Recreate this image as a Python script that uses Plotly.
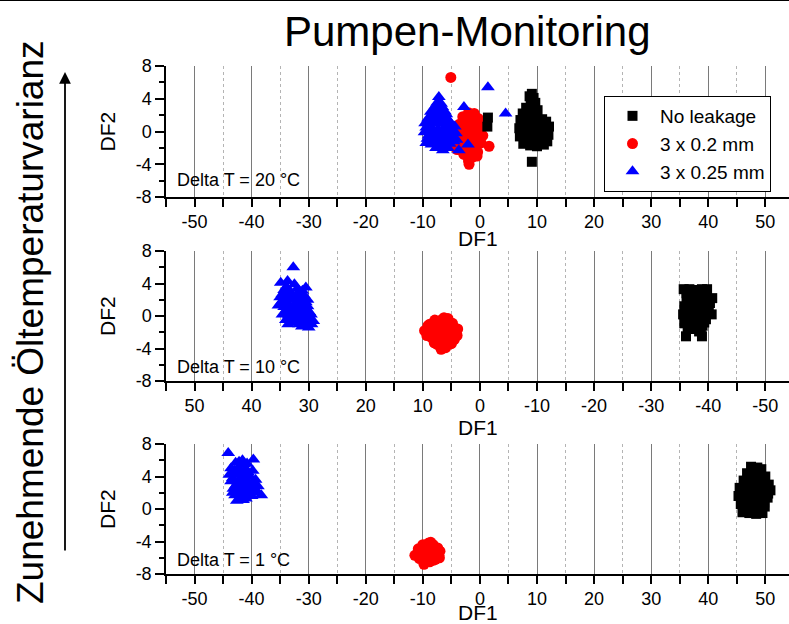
import plotly.graph_objects as go

# ---------------------------------------------------------------
# Discriminant scores (DF1, DF2) of the pump test runs
# ---------------------------------------------------------------

# Delta T = 20 °C
dt20_none_df1 = [9.1, 9.4, 8.9, 9.6, 8.1, 9.2, 10.1, 7.5, 8.6, 9.8, 10.9, 7.1, 8.2, 9.3,
                 10.5, 11.6, 12.1, 6.9, 7.9, 9.0, 10.2, 11.3, 12.0, 7.0, 8.3, 9.5, 10.8,
                 11.8, 7.6, 8.8, 10.0, 11.2, 9.1, 1.4, 1.3,
                 8.5, 9.5, 7.8, 9.0, 10.2, 11.2, 8.5, 9.8, 7.4, 8.7, 10.6, 11.5, 7.9,
                 9.2, 10.5, 11.4, 9.7, 8.7]
dt20_none_df2 = [4.6, 4.1, 3.6, 3.4, 2.9, 2.8, 2.6, 2.2, 2.0, 1.9, 1.5, 1.4, 1.2, 1.0,
                 0.9, 1.2, 0.6, 0.4, 0.3, 0.1, -0.1, -0.2, -0.4, -0.6, -0.7, -0.9, -1.0,
                 -1.2, -1.5, -1.7, -1.8, -1.6, -3.7, 1.7, 0.6,
                 2.5, 2.3, 1.7, 1.6, 1.3, 0.8, 0.7, 0.5, -0.1, -0.3, 0.3, 0.2, -1.1,
                 -1.3, -1.4, -0.8, 3.5, 4.3]

dt20_02_df1 = [-5.1, -2.0, -1.0, -3.0, -0.3, -2.2, -3.6, -1.2, 0.2, -2.8, -0.6, -3.9, -1.8,
               0.5, -3.2, -1.0, -4.8, -2.4, 0.2, 1.6, -4.0, -1.6, -0.4, -2.8, -1.2, -2.0,
               -1.9, -1.6, -2.6, -0.4, -1.5, -2.3, -0.2, -1.4, -3.5, -2.2, -0.8, -3.3,
               -1.6, -0.5]
dt20_02_df2 = [6.6, 2.3, 2.2, 1.8, 1.6, 1.2, 0.9, 0.8, 0.6, 0.2, 0.1, -0.3, -0.4,
               -0.5, -1.0, -1.1, -1.6, -1.6, -1.4, -1.8, -2.2, -2.3, -2.5, -2.8, -3.1, -3.6,
               -4.0, 1.7, 0.8, 0.9, 0.3, -0.8, -0.3, -1.6, -1.7, -2.5, -1.9, -2.3,
               -2.9, -3.0]

dt20_025_df1 = [-7.2, -7.5, -6.8, -8.0, -7.0, -6.2, -8.4, -7.4, -6.4, -5.6, -8.9, -7.9, -6.9,
                -5.9, -9.4, -8.3, -7.3, -6.3, -5.2, -4.4, -9.7, -8.7, -7.6, -6.5, -5.4, -4.2,
                -9.2, -8.0, -6.9, -5.8, -4.6, -8.5, -7.3, -6.1, -6.5, -3.7, -2.1, -2.8, 1.4,
                4.5, -7.8, -6.6, -8.6, -5.9, -7.1, -9.1, -8.1, -7.1, -6.1, -5.2, -9.6, -4.8,
                -4.9, -9.0, -8.0, -7.0, -6.0, -8.6, -7.5, -6.4, -5.3, -7.7, -5.6, -9.4, -4.1]
dt20_025_df2 = [4.2, 3.5, 3.4, 2.8, 2.7, 2.5, 2.0, 1.9, 1.8, 1.5, 1.2, 1.1, 1.0,
                0.8, 0.5, 0.4, 0.3, 0.2, 0.3, 0.6, -0.1, -0.3, -0.4, -0.5, -0.4, -0.2,
                -0.9, -1.0, -1.1, -1.0, -1.2, -1.6, -1.7, -1.6, -2.3, -2.3, -1.6, 3.0, 5.4,
                2.2, 3.1, 3.0, 2.4, 2.1, 2.3, 1.6, 1.6, 1.5, 1.3, 1.1, 1.0, 0.1,
                -0.6, -0.5, -0.1, -0.1, -0.1, -1.2, -1.3, -1.2, -1.5, -2.0, -2.0, -1.4, -1.0]

# Delta T = 10 °C
dt10_none_df1 = [-35.7, -36.7, -37.8, -38.9, -39.8, -40.7, -36.2, -37.3, -38.4, -39.5, -35.8,
                 -36.9, -38.0, -39.1, -40.1, -40.6, -35.6, -36.6, -37.7, -38.8, -39.6, -35.8,
                 -36.8, -38.0, -39.0, -36.1, -38.9, -37.2, -38.4,
                 -36.2, -37.3, -38.4, -39.5, -40.3, -36.3, -37.4, -38.5, -39.6, -36.1,
                 -37.2, -38.3, -39.4, -36.2, -37.3, -38.5, -39.3, -37.5, -38.7, -36.4]
dt10_none_df2 = [3.3, 3.3, 3.2, 3.3, 3.3, 2.2, 2.3, 2.2, 2.3, 2.1, 1.2,
                 1.3, 1.1, 1.2, 1.0, 0.2, 0.2, 0.0, 0.1, 0.0, -0.4, -0.9,
                 -1.1, -1.0, -1.2, -2.5, -2.5, -1.3, -1.9,
                 2.8, 2.7, 2.8, 2.7, 1.6, 1.7, 1.6, 1.7, 1.6, 0.6,
                 0.6, 0.5, 0.5, -0.5, -0.5, -0.4, -0.8, -1.6, -1.6, -1.6]

dt10_02_df1 = [9.7, 8.8, 8.6, 7.9, 7.6, 7.8, 7.5, 6.3, 6.8, 6.5, 6.9, 6.8, 5.6, 5.8,
               5.5, 5.8, 4.8, 4.6, 4.5, 3.9, 4.0, 8.2, 7.2, 7.1, 6.0, 6.1, 5.1, 5.2,
               7.2, 6.0, 8.0, 4.3, 5.0, 9.3, 9.1, 6.8]
dt10_02_df2 = [-1.8, -1.0, -2.6, -0.5, -1.6, -2.8, -3.5, -0.2, -1.0, -2.0, -3.0, -4.1, -0.3,
               -1.4, -2.4, -3.4, -0.9, -1.9, -2.9, -1.6, -2.4, -1.8, -1.1, -2.3, -0.9, -2.9,
               -1.5, -2.6, -3.2, -3.9, -3.3, -2.5, -3.4, -2.4, -1.2, -0.5]

dt10_025_df1 = [32.7, 34.9, 33.7, 32.5, 30.5, 34.3, 33.2, 31.8, 30.9, 35.0, 34.0, 32.8, 31.6,
                30.5, 35.3, 34.3, 33.1, 32.0, 30.9, 29.9, 34.6, 33.5, 32.4, 31.3, 30.2, 29.2,
                34.0, 32.8, 31.7, 30.5, 29.5, 33.9, 32.0, 31.1, 34.6, 33.4, 32.2, 31.2,
                30.2, 34.8, 33.7, 32.5, 31.3, 30.2, 29.6, 34.0, 32.9, 31.8, 30.7, 33.3,
                32.1, 31.0, 29.9, 33.6, 31.2, 30.0]
dt10_025_df2 = [6.0, 4.1, 4.3, 3.9, 3.5, 3.2, 3.0, 2.9, 2.6, 2.3, 2.1, 2.0, 1.8,
                1.7, 1.3, 1.1, 1.0, 0.9, 0.7, 0.5, 0.2, 0.1, 0.0, -0.1, -0.3, -0.6,
                -0.5, -0.8, -1.0, -1.1, -1.0, 3.6, 3.4, 3.1, 2.7, 2.5, 2.4, 2.2,
                2.0, 1.7, 1.6, 1.4, 1.3, 1.2, 0.2, 0.6, 0.5, 0.4, 0.2, -0.3,
                -0.4, -0.6, -0.5, -1.0, -1.3, -1.4]

# Delta T = 1 °C
dt1_none_df1 = [47.5, 48.6, 49.3, 46.8, 47.9, 49.0, 50.0, 46.2, 47.3, 48.4, 49.5, 50.6, 50.9,
                45.5, 46.5, 47.7, 48.8, 49.9, 45.3, 46.3, 47.4, 48.5, 49.7, 50.4, 45.7, 46.8,
                48.0, 49.2, 49.9, 46.0, 47.2, 48.4, 49.5,
                48.0, 47.3, 48.5, 49.6, 46.7, 47.9, 49.1, 50.2, 46.0, 47.1, 48.2, 49.4,
                50.5, 46.2, 47.4, 48.6, 49.8, 46.6, 47.8, 49.0]
dt1_none_df2 = [5.2, 5.1, 4.9, 4.4, 4.3, 4.2, 4.0, 3.5, 3.4, 3.3, 3.3, 3.0, 2.3,
                2.6, 2.5, 2.4, 2.3, 2.2, 1.6, 1.5, 1.4, 1.4, 1.2, 1.4, 0.6, 0.5,
                0.5, 0.4, 0.3, -0.4, -0.5, -0.6, -0.5,
                4.8, 4.0, 3.9, 3.7, 3.0, 2.9, 2.8, 2.6, 2.0, 1.9, 1.9, 1.8,
                1.9, 1.0, 0.9, 0.9, 0.8, 0.0, 0.0, -0.1]

dt1_02_df1 = [-11.4, -10.8, -10.6, -10.0, -9.9, -9.8, -9.0, -9.2, -9.0, -9.4, -8.2, -8.3,
              -8.1, -7.4, -7.2, -7.1, -7.0, -8.6, -10.4, -9.5, -8.7, -8.6, -9.6, -7.7,
              -10.2, -10.9, -9.4, -7.8, -8.8]
dt1_02_df2 = [-5.7, -4.9, -6.1, -4.4, -5.5, -6.8, -4.2, -5.0, -5.9, -6.5, -4.4, -5.4,
              -6.3, -4.8, -5.7, -6.0, -5.2, -4.1, -5.3, -4.6, -4.8, -5.8, -6.1, -5.5,
              -5.9, -5.6, -5.4, -6.2, -6.5]

dt1_025_df1 = [-44.1, -39.7, -41.6, -42.8, -40.8, -43.6, -42.3, -41.0, -39.8, -43.9, -42.7,
               -41.5, -40.3, -39.3, -43.6, -42.4, -41.2, -40.0, -38.9, -43.2, -42.0, -40.8,
               -39.6, -38.3, -42.9, -41.7, -40.5, -42.6, -41.5, -43.3,
               -42.2, -41.3, -43.0, -41.8, -40.6, -43.3, -42.1, -40.9, -39.8, -42.8,
               -41.6, -40.4, -39.2, -42.3, -41.1, -40.0, -42.1, -41.0]
dt1_025_df2 = [6.9, 6.1, 6.0, 5.7, 5.6, 5.0, 5.1, 4.9, 4.7, 4.2, 4.3,
               4.1, 4.0, 3.6, 3.4, 3.3, 3.2, 3.0, 2.8, 2.5, 2.4, 2.2,
               2.0, 1.7, 1.7, 1.5, 1.6, 1.0, 1.1, 2.0,
               5.8, 5.5, 4.7, 4.6, 4.5, 3.8, 3.7, 3.6, 3.3, 2.9,
               2.8, 2.6, 2.3, 2.0, 1.9, 1.6, 1.3, 1.3]

# Class names, colours and symbols
class_names = ["No leakage", "3 x 0.2 mm", "3 x 0.25 mm"]
class_colors = ["#000000", "#ff0000", "#0000ff"]
class_symbols = ["square", "circle", "triangle-up"]
class_sizes = [10, 11, 12]

panel_labels = ["Delta T = 20 °C", "Delta T = 10 °C", "Delta T = 1 °C"]
panel_data = [
    [(dt20_none_df1, dt20_none_df2), (dt20_02_df1, dt20_02_df2), (dt20_025_df1, dt20_025_df2)],
    [(dt10_none_df1, dt10_none_df2), (dt10_02_df1, dt10_02_df2), (dt10_025_df1, dt10_025_df2)],
    [(dt1_none_df1, dt1_none_df2), (dt1_02_df1, dt1_02_df2), (dt1_025_df1, dt1_025_df2)],
]
# DF1 axis direction per panel (middle panel is mirrored)
panel_reversed = [False, True, False]

# Tick values and labels
x_major = [-50, -40, -30, -20, -10, 0, 10, 20, 30, 40, 50]
x_major_text = ["-50", "-40", "-30", "-20", "-10", "0", "10", "20", "30", "40", "50"]
x_minor = [-55, -45, -35, -25, -15, -5, 5, 15, 25, 35, 45, 55]
y_major = [-8, -4, 0, 4, 8]
y_major_text = ["-8", "-4", "0", "4", "8"]
y_minor = [-6, -2, 2, 6]

# ---------------------------------------------------------------
W, H = 789, 624
FONT = "Liberation Sans, Arial, sans-serif"
X_LEFT_PX = 166
X_LO, X_HI = -55, 54.15
# panel frames in pixels (top, bottom)
panel_px = [(66, 197), (251, 381), (444, 574)]

fig = go.Figure()

draw_order = [1, 0, 2]  # red under black, blue on top
for p, pdata in enumerate(panel_data):
    xa = "x" if p == 0 else f"x{p + 1}"
    ya = "y" if p == 0 else f"y{p + 1}"
    for c in draw_order:
        xs, ys = pdata[c]
        fig.add_trace(go.Scatter(
            x=xs, y=ys, mode="markers",
            marker=dict(symbol=class_symbols[c], size=class_sizes[c],
                        color=class_colors[c], line=dict(width=0)),
            name=class_names[c], legendgroup=class_names[c],
            legendrank=c + 1, showlegend=(p == 0),
            xaxis=xa, yaxis=ya, hoverinfo="x+y+name",
        ))

layout = dict(
    width=W, height=H, autosize=False,
    margin=dict(l=0, r=0, t=0, b=0, autoexpand=False),
    paper_bgcolor="white", plot_bgcolor="white",
    font=dict(family=FONT, size=18, color="black"),
    showlegend=True,
    legend=dict(
        x=604 / W, y=1 - 96 / H, xanchor="left", yanchor="top",
        bgcolor="white", bordercolor="black", borderwidth=1,
        font=dict(family=FONT, size=19, color="black"),
        itemwidth=45, tracegroupgap=0,
    ),
)

for p in range(3):
    top, bot = panel_px[p]
    dom_y = [1 - bot / H, 1 - top / H]
    rng = [-X_LO, -X_HI] if panel_reversed[p] else [X_LO, X_HI]
    n = p + 1
    xk = "xaxis" if n == 1 else f"xaxis{n}"
    yk = "yaxis" if n == 1 else f"yaxis{n}"
    xid = "x" if n == 1 else f"x{n}"
    yid = "y" if n == 1 else f"y{n}"
    # bottom DF1 axis with grid
    layout[xk] = dict(
        domain=[X_LEFT_PX / W, 1], anchor=yid, range=rng, automargin=False,
        tickmode="array", tickvals=x_major, ticktext=x_major_text,
        ticks="outside", ticklen=8, tickwidth=1.5, tickcolor="black",
        tickfont=dict(family=FONT, size=18, color="black"),
        showline=True, linecolor="black", linewidth=1.5,
        showgrid=True, gridcolor="#7a7a7a", gridwidth=1,
        zeroline=False,
        minor=dict(tickmode="array", tickvals=x_minor, ticks="outside", ticklen=8,
                   tickwidth=1.5, tickcolor="black", showgrid=True,
                   gridcolor="#b4b4b4", gridwidth=1, griddash="dot"),
    )
    # left DF2 axis
    layout[yk] = dict(
        domain=dom_y, anchor=xid, range=[-8, 8], automargin=False,
        tickmode="array", tickvals=y_major, ticktext=y_major_text,
        ticks="outside", ticklen=9, tickwidth=1.5, tickcolor="black",
        tickfont=dict(family=FONT, size=18, color="black"),
        showline=True, linecolor="black", linewidth=1.5,
        showgrid=False, zeroline=False,
        minor=dict(tickmode="array", tickvals=y_minor, ticks="outside", ticklen=5,
                   tickwidth=1.5, tickcolor="black", showgrid=False),
    )
    # top frame axis with inward ticks
    tk = f"xaxis{n + 3}"
    layout[tk] = dict(
        overlaying=xid, anchor=yid, side="top", range=rng, automargin=False,
        tickmode="array", tickvals=x_major, showticklabels=False,
        ticks="inside", ticklen=8, tickwidth=1.5, tickcolor="black",
        showline=True, linecolor="black", linewidth=1.5,
        showgrid=False, zeroline=False,
        minor=dict(tickmode="array", tickvals=x_minor, ticks="inside", ticklen=8,
                   tickwidth=1.5, tickcolor="black", showgrid=False),
    )
    # right frame axis with inward ticks
    rk = f"yaxis{n + 3}"
    layout[rk] = dict(
        overlaying=yid, anchor=xid, side="right", range=[-8, 8], automargin=False,
        tickmode="array", tickvals=[-4, 0, 4], showticklabels=False,
        ticks="inside", ticklen=4, tickwidth=1.5, tickcolor="black",
        showline=False, showgrid=False, zeroline=False,
    )

fig.update_layout(**layout)

annotations = []
# title
annotations.append(dict(text="Pumpen-Monitoring", x=467 / W, y=1 - 31 / H,
                        xref="paper", yref="paper", xanchor="center", yanchor="middle",
                        showarrow=False, font=dict(family=FONT, size=42, color="black")))
# vertical caption along the left side
annotations.append(dict(text="Zunehmende Öltemperaturvarianz", x=30 / W, y=1 - 322 / H,
                        xref="paper", yref="paper", xanchor="center", yanchor="middle",
                        textangle=-90, showarrow=False,
                        font=dict(family=FONT, size=37, color="black")))
# upward arrow next to the caption
annotations.append(dict(text="", x=65 / W, y=1 - 72 / H, xref="paper", yref="paper",
                        showarrow=True, ax=0, ay=480, axref="pixel", ayref="pixel",
                        arrowhead=2, arrowsize=1.3, arrowwidth=1.8, arrowcolor="black"))

df1_y_px = [238, 427, 612]
label_y_px = [180, 367, 560]
for p in range(3):
    top, bot = panel_px[p]
    annotations.append(dict(text="DF2", x=107 / W, y=1 - (top + bot) / 2 / H,
                            xref="paper", yref="paper", xanchor="center", yanchor="middle",
                            textangle=-90, showarrow=False,
                            font=dict(family=FONT, size=21, color="black")))
    annotations.append(dict(text="DF1", x=478 / W, y=1 - df1_y_px[p] / H,
                            xref="paper", yref="paper", xanchor="center", yanchor="middle",
                            showarrow=False, font=dict(family=FONT, size=21, color="black")))
    annotations.append(dict(text=panel_labels[p], x=175 / W, y=1 - label_y_px[p] / H,
                            xref="paper", yref="paper", xanchor="left", yanchor="middle",
                            showarrow=False, font=dict(family=FONT, size=18, color="black")))

fig.update_layout(
    annotations=annotations,
    shapes=[dict(type="line", xref="paper", yref="paper", x0=0, x1=1, y0=1, y1=1,
                 line=dict(color="black", width=2))],
)

fig.write_html("out.html")
